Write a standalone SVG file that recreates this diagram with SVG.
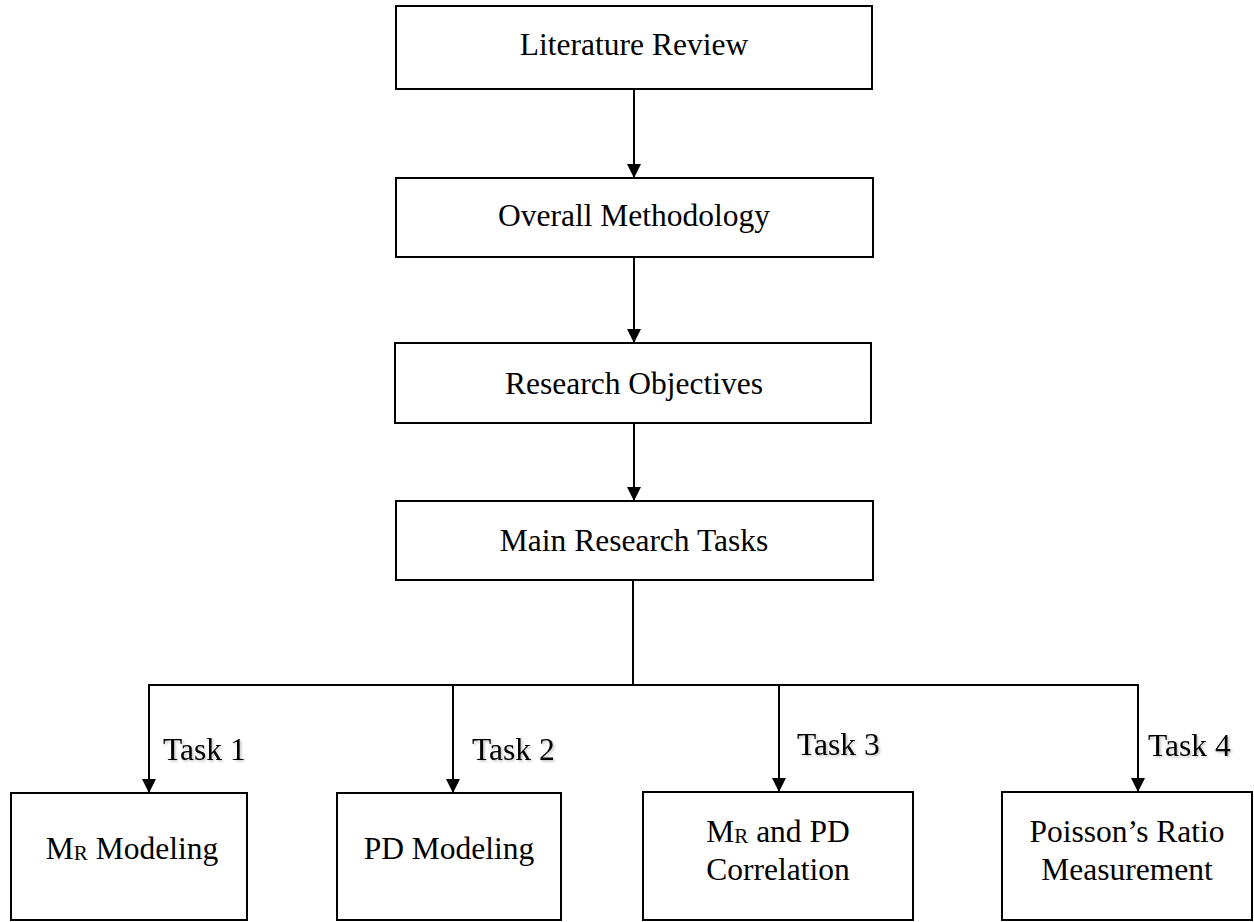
<svg xmlns="http://www.w3.org/2000/svg" width="1254" height="922" viewBox="0 0 1254 922">
  <style>
    .box { fill: #ffffff; stroke: #000000; stroke-width: 2; }
    .lbl { font-family: "Liberation Serif", "Times New Roman", serif; font-size: 31.5px; fill: #000000; text-anchor: middle; }
    .task { font-family: "Liberation Serif", "Times New Roman", serif; font-size: 31.5px; fill: #000000; filter: url(#soft); }
    .sub { font-size: 21px; }
    .wire { fill: none; stroke: #000000; stroke-width: 2; }
  </style>
  <defs>
    <marker id="arrow" markerUnits="userSpaceOnUse" markerWidth="14" markerHeight="15" refX="14" refY="7" orient="auto">
      <path d="M0,0 L14,7 L0,14 z" fill="#000000"/>
    </marker>
    <filter id="soft" x="-10%" y="-20%" width="130%" height="150%">
      <feDropShadow dx="1.5" dy="1.5" stdDeviation="1" flood-color="#000000" flood-opacity="0.25"/>
    </filter>
  </defs>
  <rect width="1254" height="922" fill="#ffffff"/>

  <!-- connectors -->
  <g id="connectors">
    <line class="wire" x1="634" y1="89" x2="634" y2="178" marker-end="url(#arrow)"/>
    <line class="wire" x1="634" y1="257" x2="634" y2="343" marker-end="url(#arrow)"/>
    <line class="wire" x1="634" y1="423" x2="634" y2="501" marker-end="url(#arrow)"/>
    <line class="wire" x1="633" y1="580" x2="633" y2="685"/>
    <line class="wire" x1="148" y1="685" x2="1139" y2="685"/>
    <line class="wire" x1="149" y1="684" x2="149" y2="793" marker-end="url(#arrow)"/>
    <line class="wire" x1="453" y1="685" x2="453" y2="793" marker-end="url(#arrow)"/>
    <line class="wire" x1="779" y1="685" x2="779" y2="792" marker-end="url(#arrow)"/>
    <line class="wire" x1="1138" y1="684" x2="1138" y2="792" marker-end="url(#arrow)"/>
    <text class="task" x="163" y="760">Task 1</text>
    <text class="task" x="472" y="760">Task 2</text>
    <text class="task" x="797" y="755">Task 3</text>
    <text class="task" x="1148" y="756">Task 4</text>
  </g>

  <!-- main chain -->
  <g id="literature-review">
    <rect class="box" x="396" y="6" width="476" height="83"/>
    <text class="lbl" x="634" y="55">Literature Review</text>
  </g>
  <g id="overall-methodology">
    <rect class="box" x="396" y="178" width="477" height="79"/>
    <text class="lbl" x="634" y="226">Overall Methodology</text>
  </g>
  <g id="research-objectives">
    <rect class="box" x="395" y="343" width="476" height="80"/>
    <text class="lbl" x="634" y="394">Research Objectives</text>
  </g>
  <g id="main-research-tasks">
    <rect class="box" x="396" y="501" width="477" height="79"/>
    <text class="lbl" x="634" y="551">Main Research Tasks</text>
  </g>

  <!-- task boxes -->
  <g id="mr-modeling">
    <rect class="box" x="11" y="793" width="236" height="127"/>
    <text class="lbl" x="132" y="859">M<tspan class="sub" dy="1">R</tspan><tspan dy="-1"> Modeling</tspan></text>
  </g>
  <g id="pd-modeling">
    <rect class="box" x="337" y="793" width="224" height="127"/>
    <text class="lbl" x="449" y="859">PD Modeling</text>
  </g>
  <g id="mr-pd-correlation">
    <rect class="box" x="643" y="792" width="270" height="128"/>
    <text class="lbl" x="778" y="842">M<tspan class="sub" dy="1">R</tspan><tspan dy="-1"> and PD</tspan></text>
    <text class="lbl" x="778" y="880">Correlation</text>
  </g>
  <g id="poisson-ratio">
    <rect class="box" x="1002" y="792" width="250" height="128"/>
    <text class="lbl" x="1127" y="842">Poisson’s Ratio</text>
    <text class="lbl" x="1127" y="880">Measurement</text>
  </g>
</svg>
